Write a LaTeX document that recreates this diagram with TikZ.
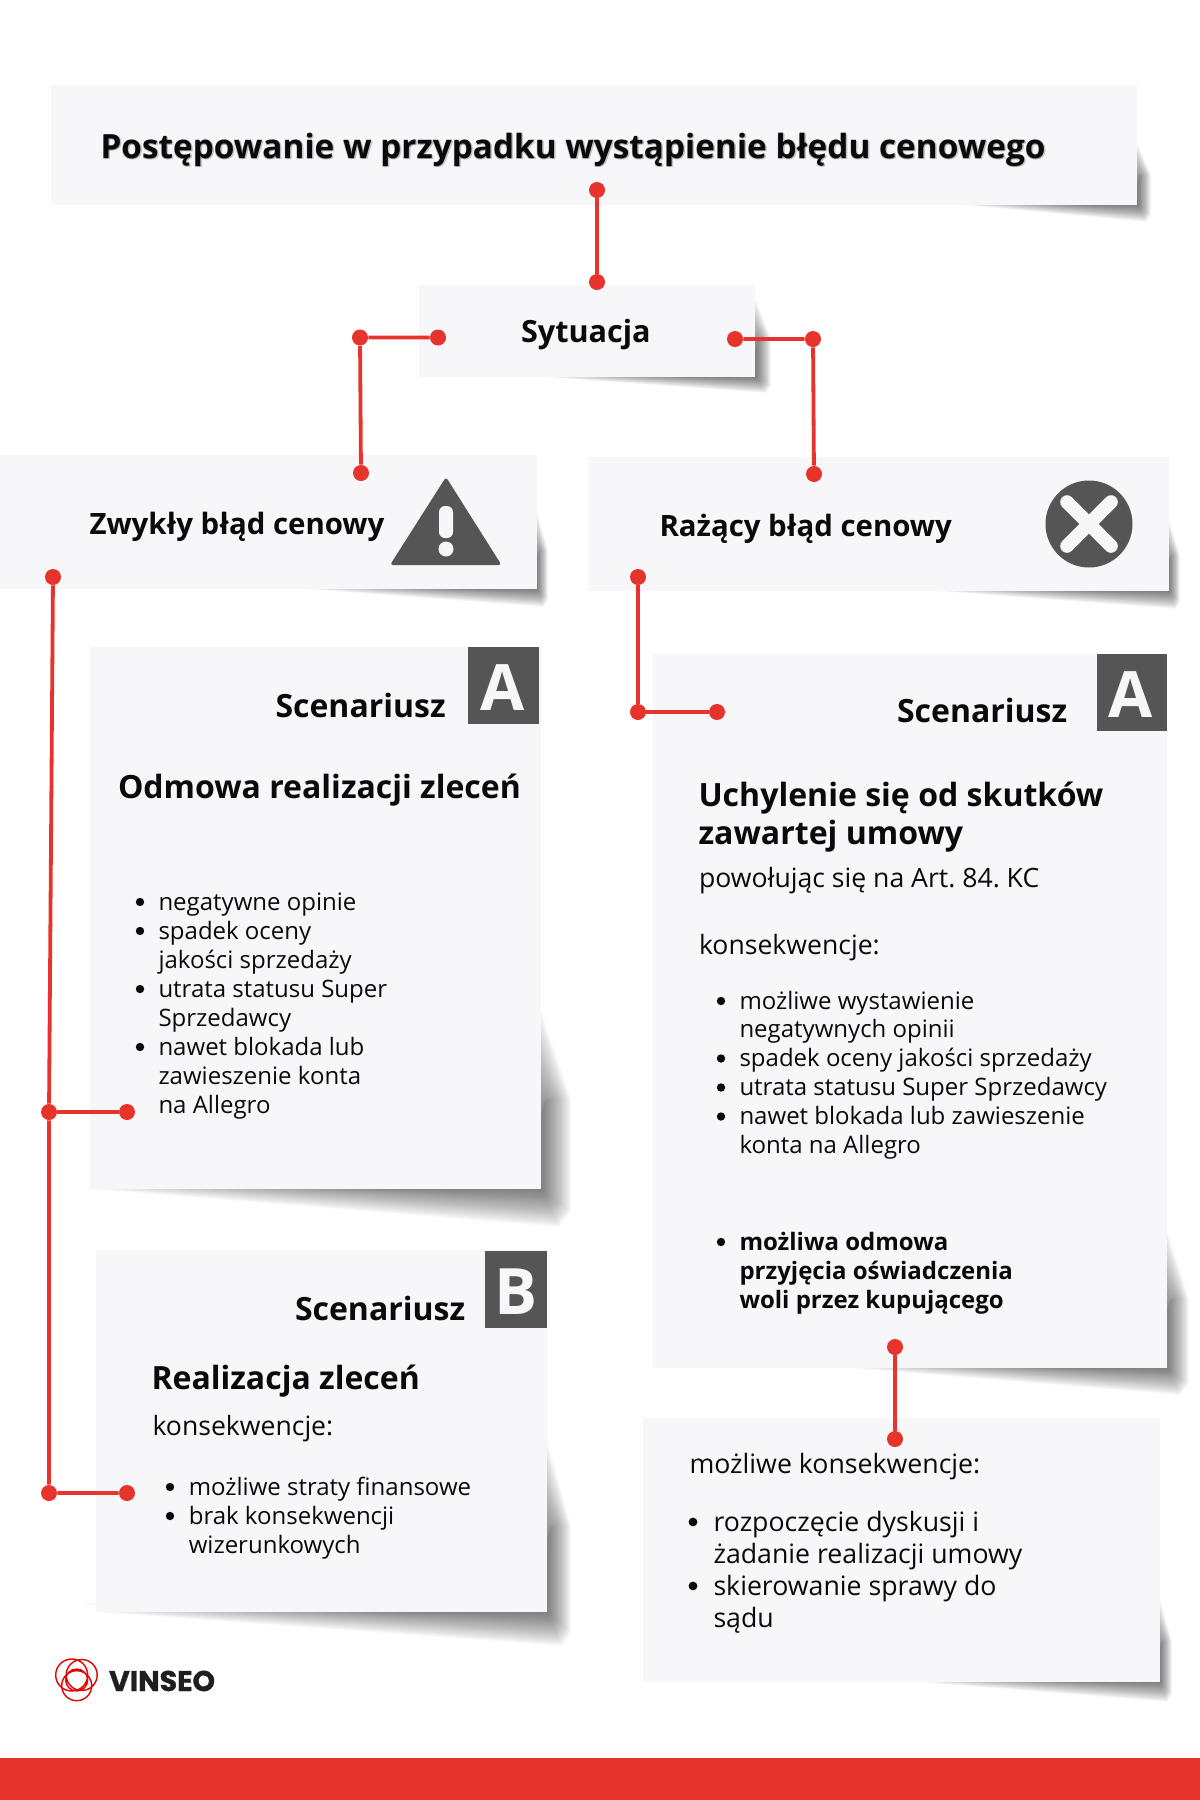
\documentclass[tikz,border=0pt]{standalone}
\usepackage{fontspec}
\setmainfont{Open Sans}
\newfontfamily\logofont[BoldFeatures={FakeBold=1.2}]{Poppins}
\frenchspacing
\definecolor{boxfill}{HTML}{F7F7F9}
\definecolor{accent}{HTML}{E6332B}
\definecolor{tagfill}{HTML}{555555}
\definecolor{ink}{HTML}{0A0A0A}
\newcommand{\pxfont}[1]{\fontsize{\dimexpr #1pt*1/2\relax}{\dimexpr #1pt*3/5\relax}\selectfont}
% x1 y1 x2 y2 startx starty dx dy
\newcommand{\papershadow}[8]{%
  \foreach \t in {0,0.035,...,0.99}{%
    \fill[black,opacity=0.022]
      ({#5+(#3-#5)*\t*0.7},#4)
      -- ({#3+#7*(1-\t)*0.6},{#4+#8*(1-\t)})
      -- ({#3+#7*(1-\t)},{#4+#8*(1-\t)*0.6})
      -- ({#3+#7*(1-\t)},{#4-(#4-#6)*0.5})
      -- (#3,{#6+(#4-#6)*\t*0.7})
      -- cycle;
  }%
}
\tikzset{
  panel/.style={fill=boxfill,draw=none},
  tag/.style={fill=tagfill,draw=none},
  conn/.style={draw=accent,line width=1.9pt},
  dot/.style={circle,fill=accent,draw=none,inner sep=0pt,minimum size=8pt},
  lbl/.style={anchor=base west,inner sep=0pt,outer sep=0pt,text=ink},
  tagletter/.style={anchor=base,inner sep=0pt,text=boxfill,font=\bfseries\pxfont{64}},
}
\begin{document}
\begin{tikzpicture}[x=0.5pt,y=-0.5pt]
\useasboundingbox (0,0) rectangle (1200,1800);
% shadows
\papershadow{51}{85}{1138}{205}{964}{145}{13}{17}
\papershadow{419}{285}{756}{377}{543}{300}{15}{16}
\papershadow{0}{455}{537}{589}{306}{512}{11}{18}
\papershadow{588}{457}{1169}{591}{937}{520}{11}{18}
\papershadow{90}{647}{541}{1189}{90}{1010}{30}{38}
\papershadow{96}{1250}{547}{1612}{96}{1440}{24}{34}
\papershadow{653}{654}{1167}{1368}{850}{1230}{22}{27}
\papershadow{643}{1418}{1160}{1682}{918}{1600}{12}{20}
% panels
\fill[panel] (51,85) rectangle (1137,205);
\fill[panel] (419,285) rectangle (755,377);
\fill[panel] (0,455) rectangle (537,589);
\fill[panel] (588,457) rectangle (1169,591);
\fill[panel] (90,647) rectangle (541,1189);
\fill[panel] (96,1250) rectangle (547,1612);
\fill[panel] (653,654) rectangle (1167,1368);
\fill[panel] (643,1418) rectangle (1160,1682);
\fill[boxfill] (85,1603) rectangle (96,1604.5);
% bottom bar
\fill[accent] (0,1758) rectangle (1200,1800);
% tags
\fill[tag] (468,647) rectangle (539,724);
\fill[tag] (485,1251) rectangle (547,1328);
\fill[tag] (1097,654) rectangle (1167,731);
\node[tagletter] (tagA1) at (503,710) {A};
\node[tagletter] (tagB) at (516,1314) {B};
\node[tagletter] (tagA2) at (1131,717) {A};
% icons
\fill[tagfill,rounded corners=1.5pt] (446,477) -- (501.5,565) -- (390,565) -- cycle;
\fill[boxfill,rounded corners=3pt] (439,506) rectangle (453,538);
\fill[boxfill] (446,549) circle (7.5);
\fill[tagfill] (1089,524) circle (43.5);
\draw[boxfill,line width=6.8pt,line cap=round] (1067,502) -- (1111,546) (1111,502) -- (1067,546);
% titles
\node[lbl,text=black,opacity=.22,font=\bfseries\pxfont{33.35}] at (102,159) {Postępowanie w przypadku wystąpienie błędu cenowego};
\node[lbl,text=black,opacity=.22,font=\bfseries\pxfont{33.35}] at (100,159) {Postępowanie w przypadku wystąpienie błędu cenowego};
\node[lbl,font=\bfseries\pxfont{33.35}] (title) at (100.5,158) {Postępowanie w przypadku wystąpienie błędu cenowego};
\node[lbl,font=\bfseries\pxfont{30.6}] (syt) at (521,342) {Sytuacja};
\node[lbl,font=\bfseries\pxfont{29.4}] (zwy) at (89.5,534) {Zwykły błąd cenowy};
\node[lbl,font=\bfseries\pxfont{29.4}] (raz) at (659.5,536) {Rażący błąd cenowy};
\node[lbl,font=\bfseries\pxfont{32}] (s1) at (275.5,717) {Scenariusz};
\node[lbl,font=\bfseries\pxfont{32}] (s2) at (295,1320) {Scenariusz};
\node[lbl,font=\bfseries\pxfont{32}] (s3) at (897,722) {Scenariusz};
\node[lbl,font=\bfseries\pxfont{32}] (h1) at (118,798) {Odmowa realizacji zleceń};
\node[lbl,font=\bfseries\pxfont{32}] (h2) at (151.5,1389) {Realizacja zleceń};
\node[lbl,font=\bfseries\pxfont{32.05}] (h3a) at (698.5,806) {Uchylenie się od skutków};
\node[lbl,font=\bfseries\pxfont{32.05}] (h3b) at (698.5,844) {zawartej umowy};
\node[lbl,font=\pxfont{26.6}] (k2) at (152.5,1435) {konsekwencje:};
\node[lbl,font=\pxfont{26.6}] (pow) at (699,887) {powołując się na Art. 84. KC};
\node[lbl,font=\pxfont{26.6}] (k3) at (699,954) {konsekwencje:};
\node[lbl,font=\pxfont{26.7}] (k4) at (689.5,1473) {możliwe konsekwencje:};
% left list A
\foreach \tx/\yy in {negatywne opinie/910,spadek oceny/939,jakości sprzedaży/968,utrata statusu Super/997,Sprzedawcy/1026,nawet blokada lub/1055,zawieszenie konta/1084,na Allegro/1113}
  \node[lbl,font=\pxfont{24}] at (158.5,\yy) {\tx};
\foreach \yy in {902,931,989,1047}
  \fill[ink] (140,\yy) circle (4.2);
% left list B
\foreach \tx/\yy in {możliwe straty finansowe/1495,brak konsekwencji/1524,wizerunkowych/1553}
  \node[lbl,font=\pxfont{24}] at (188.8,\yy) {\tx};
\foreach \yy in {1487,1516}
  \fill[ink] (170,\yy) circle (4.2);
% right list
\foreach \tx/\yy in {możliwe wystawienie/1009,negatywnych opinii/1037.5,spadek oceny jakości sprzedaży/1066.5,utrata statusu Super Sprzedawcy/1095.5,nawet blokada lub zawieszenie/1124.5,konta na Allegro/1153.5}
  \node[lbl,font=\pxfont{24}] at (739.5,\yy) {\tx};
\foreach \yy in {1001,1058.5,1087.5,1116.5}
  \fill[ink] (721,\yy) circle (4.2);
\foreach \tx/\yy in {możliwa odmowa/1250,przyjęcia oświadczenia/1279,woli przez kupującego/1308}
  \node[lbl,font=\bfseries\pxfont{24}] at (739.5,\yy) {\tx};
\fill[ink] (721,1242) circle (4.2);
% bottom right list
\foreach \tx/\yy in {rozpoczęcie dyskusji i/1531,żadanie realizacji umowy/1563,skierowanie sprawy do/1595,sądu/1627}
  \node[lbl,font=\pxfont{26.7}] at (713.5,\yy) {\tx};
\foreach \yy in {1522,1586}
  \fill[ink] (693,\yy) circle (4.4);
% connectors
\node[dot] (a1) at (597,190) {};
\node[dot] (a2) at (597,282) {};
\draw[conn] (a1) -- (a2);
\node[dot] (b1) at (438,337.5) {};
\node[dot] (b2) at (360,337.5) {};
\node[dot] (b3) at (361,473) {};
\draw[conn] (b1) -- (b2) -- (b3);
\node[dot] (c1) at (735,339) {};
\node[dot] (c2) at (813,339) {};
\node[dot] (c3) at (814,474) {};
\draw[conn] (c1) -- (c2) -- (c3);
\node[dot] (d1) at (53,577) {};
\node[dot] (d2) at (49,1112) {};
\node[dot] (d3) at (49,1493) {};
\node[dot] (d4) at (127,1112) {};
\node[dot] (d5) at (127,1493) {};
\draw[conn] (d1) -- (d2) -- (d3) -- (d5);
\draw[conn] (d2) -- (d4);
\node[dot] (e1) at (638,577) {};
\node[dot] (e2) at (638,712) {};
\node[dot] (e3) at (717,712) {};
\draw[conn] (e1) -- (e2) -- (e3);
\node[dot] (f1) at (895,1347) {};
\node[dot] (f2) at (895,1439) {};
\draw[conn] (f1) -- (f2);
% logo
\draw[red!90!black,line width=.7pt] (71.7,1675) circle (16) (81.7,1675) circle (15.5) (76.7,1685.7) circle (15) (76.7,1680) circle (11);
\node[lbl,font=\logofont\bfseries\pxfont{28.5},text=black!88] (logo) at (109,1691) {VINSEO};
\end{tikzpicture}
\end{document}
